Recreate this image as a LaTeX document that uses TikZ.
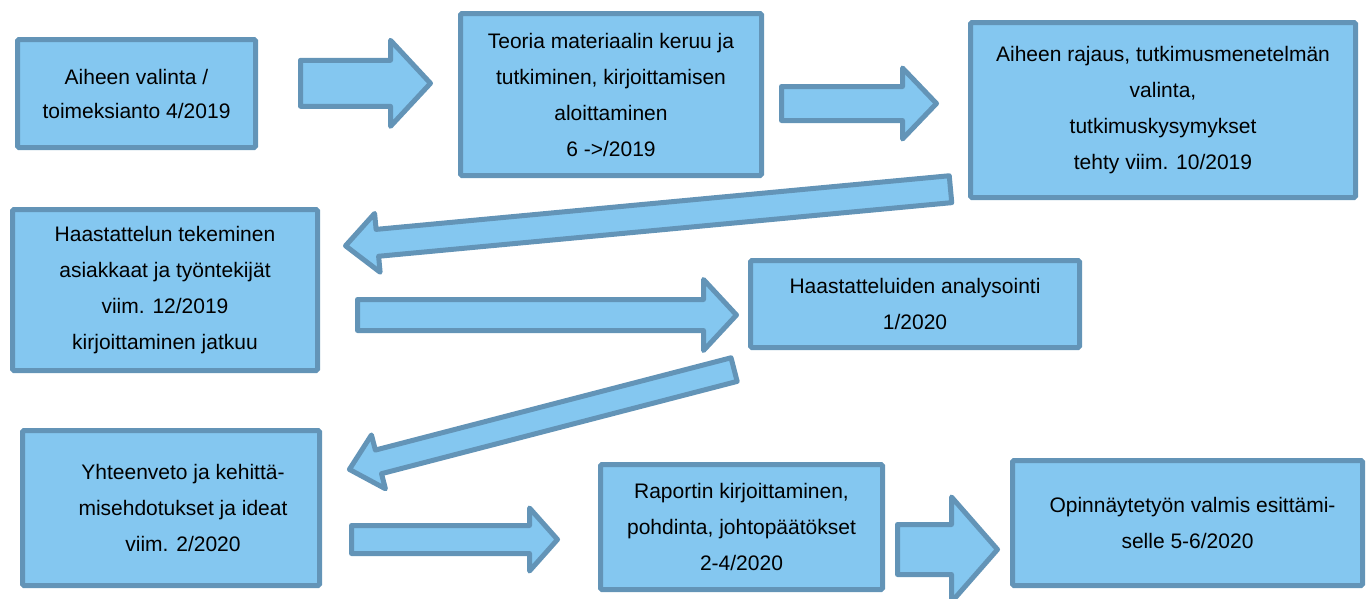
\documentclass[tikz,border=0pt]{standalone}
\usepackage{fontspec}
\setmainfont{Liberation Sans}
\usetikzlibrary{calc}
\definecolor{boxfill}{RGB}{132,199,240}
\definecolor{boxline}{RGB}{99,148,183}
\tikzset{
  stepbox/.style={draw=boxline, fill=boxfill, line width=5pt, rounded corners=1.5pt,
    inner sep=0pt, align=center, font=\fontsize{21}{36}\selectfont},
  arrowbody/.style={draw=boxline, fill=boxfill, line width=5pt, line join=round}
}
% block arrow: #1 tail, #2 tip, #3 shaft half width, #4 head half width, #5 head length
\newcommand{\blockarrow}[5]{%
  \coordinate (hb) at ($(#2)!#5!(#1)$);
  \draw[arrowbody] ($(#1)!#3!90:(#2)$) -- ($(hb)!#3!90:(#2)$) -- ($(hb)!#4!90:(#2)$)
    -- (#2) -- ($(hb)!#4!-90:(#2)$) -- ($(hb)!#3!-90:(#2)$) -- ($(#1)!#3!-90:(#2)$) -- cycle;}
% indented line inside a centred box
\newcommand{\indline}[1]{\hspace*{24pt}#1}
\begin{document}
\begin{tikzpicture}[x=1pt,y=-1pt]
\useasboundingbox (0,0) rectangle (1371,598);

% process steps
\node[stepbox, minimum width=238pt, minimum height=108pt] (b1) at (136.5,93.5)
  {Aiheen valinta /\\[-2pt]toimeksianto 4/2019};
\node[stepbox, minimum width=301pt, minimum height=162pt] (b2) at (611,94.5)
  {Teoria materiaalin keruu ja\\tutkiminen, kirjoittamisen\\aloittaminen\\6 ->/2019};
\node[stepbox, minimum width=385pt, minimum height=175pt] (b3) at (1163,110)
  {Aiheen rajaus, tutkimusmenetelmän\\valinta,\\tutkimuskysymykset\\tehty viim. 10/2019};
\node[stepbox, minimum width=305pt, minimum height=161pt] (b4) at (165,290)
  {Haastattelun tekeminen\\asiakkaat ja työntekijät\\viim. 12/2019\\kirjoittaminen jatkuu};
\node[stepbox, minimum width=329pt, minimum height=87pt] (b5) at (915,304)
  {Haastatteluiden analysointi\\1/2020};
\node[stepbox, minimum width=297pt, minimum height=155pt] (b6) at (171,508)
  {\indline{Yhteenveto ja kehittä-}\\\indline{misehdotukset ja ideat}\\\indline{viim. 2/2020}};
\node[stepbox, minimum width=282pt, minimum height=125pt] (b7) at (741.5,527)
  {Raportin kirjoittaminen,\\pohdinta, johtopäätökset\\2-4/2020};
\node[stepbox, minimum width=350pt, minimum height=125pt] (b8) at (1187.5,523)
  {\hspace*{10pt}Opinnäytetyön valmis esittämi-\\selle 5-6/2020};

% arrow ends
\coordinate (a1s) at (300.5,83.3);  \coordinate (a1e) at (430.5,83.3);
\coordinate (a2s) at (781.5,103.5); \coordinate (a2e) at (936.5,103.5);
\coordinate (a3s) at (950.5,189.2); \coordinate (a3e) at (345.5,245.8);
\coordinate (a4s) at (357.5,315);   \coordinate (a4e) at (736.5,315);
\coordinate (a5s) at (734.1,369.6); \coordinate (a5e) at (349.4,469.4);
\coordinate (a6s) at (351.5,539.5); \coordinate (a6e) at (557.5,539.5);
\coordinate (a7s) at (897.5,549.5); \coordinate (a7e) at (997.5,549.5);

% block arrows between the steps
\blockarrow{a1s}{a1e}{23pt}{43pt}{40pt}
\blockarrow{a2s}{a2e}{17pt}{35.5pt}{34pt}
\blockarrow{a3s}{a3e}{13.5pt}{29.5pt}{32pt}
\blockarrow{a4s}{a4e}{15.5pt}{35.5pt}{33pt}
\blockarrow{a5s}{a5e}{12.2pt}{27.8pt}{30pt}
\blockarrow{a6s}{a6e}{14pt}{31.5pt}{28pt}
\blockarrow{a7s}{a7e}{25pt}{52.5pt}{46pt}
\end{tikzpicture}
\end{document}
